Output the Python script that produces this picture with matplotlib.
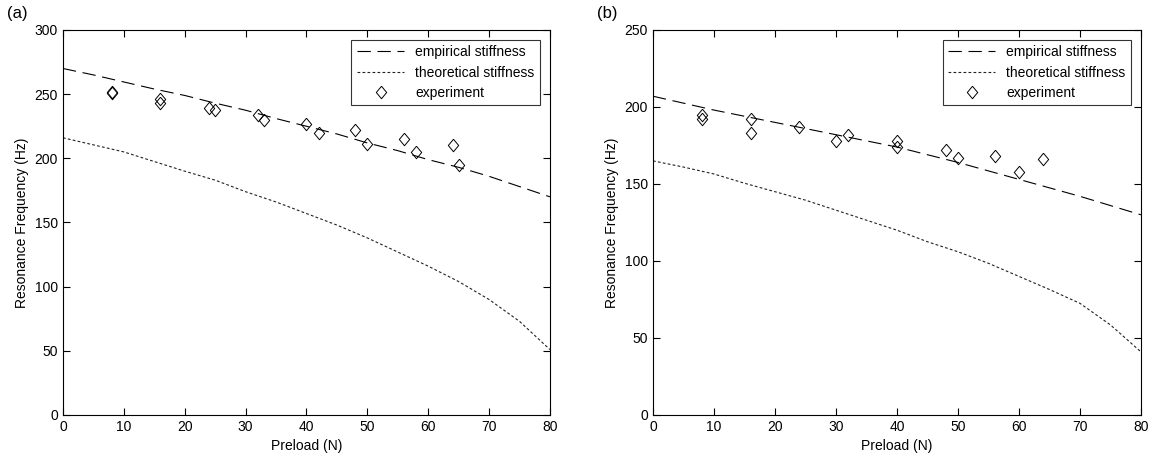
import matplotlib
matplotlib.use("Agg")
import matplotlib.pyplot as plt

plt.rcParams['font.family'] = ['Liberation Sans', 'DejaVu Sans']

# model curves, every 5 N
x_line = [0, 5, 10, 15, 20, 25, 30, 35, 40, 45, 50, 55, 60, 65, 70, 75, 80]
emp_a = [270, 265, 259.5, 254, 249, 243, 237.5, 231, 225, 219, 212, 206, 199, 193, 186, 178, 170]
theo_a = [216, 210.5, 205, 197.5, 190, 183, 174, 166, 157, 148, 138, 127, 116, 104, 90, 73, 51]
emp_b = [207, 202.5, 198, 194, 190, 186, 182, 178, 174, 169, 164, 158.5, 153, 147.5, 142, 136, 130]
theo_b = [165, 161, 156.5, 150.5, 145, 139.5, 133, 126.5, 120, 112.5, 106, 98.5, 90, 81.5, 72.5, 58.5, 41]

# experiment points
exp_x_a = [8, 8, 16, 16, 24, 25, 32, 33, 40, 42, 48, 50, 56, 58, 64, 65]
exp_y_a = [252, 251, 246, 243, 239, 238, 234, 230, 227, 220, 222, 211, 215, 205, 210, 195]
exp_x_b = [8, 8, 16, 16, 24, 30, 32, 40, 40, 48, 50, 56, 60, 64]
exp_y_b = [195, 192, 192, 183, 187, 178, 182, 178, 174, 172, 167, 168, 158, 166]

diamond = [(0, 1), (0.83, 0), (0, -1), (-0.83, 0), (0, 1)]

fig = plt.figure(figsize=(11.49, 4.58), dpi=100)
ax1 = fig.add_axes([0.0548, 0.0939, 0.4238, 0.8406])
ax2 = fig.add_axes([0.5683, 0.0939, 0.4247, 0.8406])


def panel(ax, emp, theo, ex, ey, ymax, tag):
    ax.plot(x_line, emp, color='black', lw=0.8,
            dashes=(12, 6), label='empirical stiffness')
    ax.plot(x_line, theo, color='#222222', lw=0.8,
            dashes=(2.5, 2), label='theoretical stiffness')
    ax.plot(ex, ey, linestyle='none', marker=diamond, markersize=9, mfc='none',
            mec='black', mew=0.7, label='experiment')
    ax.set_xlim(0, 80)
    ax.set_ylim(0, ymax)
    ax.set_xticks(range(0, 81, 10))
    ax.set_yticks(range(0, ymax + 1, 50))
    ax.tick_params(direction='in', top=True, right=True, labelsize=10, length=5, width=0.8)
    for s in ax.spines.values():
        s.set_linewidth(0.8)
    ax.set_xlabel('Preload (N)', fontsize=10)
    ax.set_ylabel('Resonance Frequency (Hz)', fontsize=10)
    leg = ax.legend(loc='upper right', fontsize=10, frameon=True, fancybox=False,
                    handlelength=3.4, borderaxespad=0.7, labelspacing=0.45)
    leg.get_frame().set_edgecolor('black')
    leg.get_frame().set_linewidth(0.8)
    ax.text(-0.115, 1.03, tag, transform=ax.transAxes, fontsize=12)


panel(ax1, emp_a, theo_a, exp_x_a, exp_y_a, 300, '(a)')
panel(ax2, emp_b, theo_b, exp_x_b, exp_y_b, 250, '(b)')

fig.savefig('out.png', dpi=100)
